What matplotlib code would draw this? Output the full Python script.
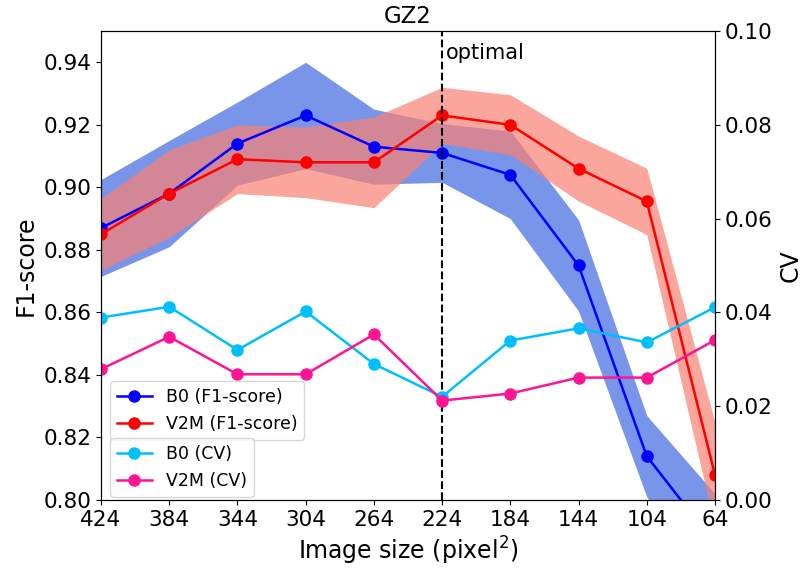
import matplotlib
matplotlib.use("Agg")
import matplotlib.pyplot as plt
import numpy as np

# image sizes, largest to smallest
sizes = ["424", "384", "344", "304", "264", "224", "184", "144", "104", "64"]

# F1-score mean and spread per model
b0_f1 = [0.887, 0.898, 0.914, 0.923, 0.913, 0.911, 0.904, 0.875, 0.814, 0.786]
b0_std = [0.0155, 0.017, 0.0133, 0.017, 0.012, 0.0094, 0.014, 0.0146, 0.013, 0.016]
v2m_f1 = [0.885, 0.898, 0.909, 0.908, 0.908, 0.923, 0.920, 0.906, 0.8955, 0.808]
v2m_std = [0.0115, 0.014, 0.011, 0.0113, 0.0145, 0.009, 0.0096, 0.0104, 0.0106, 0.0168]

# coefficient of variation
b0_cv = [0.0389, 0.0412, 0.0320, 0.0402, 0.0290, 0.0220, 0.0340, 0.0366, 0.0336, 0.0411]
v2m_cv = [0.0279, 0.0348, 0.0268, 0.0268, 0.0353, 0.0212, 0.0227, 0.0261, 0.0261, 0.0341]

optimal_size = "224"

x = np.arange(len(sizes))
b0_f1 = np.array(b0_f1)
b0_std = np.array(b0_std)
v2m_f1 = np.array(v2m_f1)
v2m_std = np.array(v2m_std)

fig = plt.figure(figsize=(8.03, 5.72), dpi=100)
ax1 = fig.add_axes([0.1258, 0.1259, 0.7646, 0.8199])

ax1.fill_between(x, b0_f1 - b0_std, b0_f1 + b0_std, color="royalblue", alpha=0.7, linewidth=0)
ax1.fill_between(x, v2m_f1 - v2m_std, v2m_f1 + v2m_std, color="salmon", alpha=0.7, linewidth=0)
l1, = ax1.plot(x, b0_f1, "-o", color="blue", lw=1.8, ms=8, label="B0 (F1-score)")
l2, = ax1.plot(x, v2m_f1, "-o", color="red", lw=1.8, ms=8, label="V2M (F1-score)")

opt = sizes.index(optimal_size)
ax1.axvline(opt, color="black", ls="--", lw=1.5)
ax1.text(opt + 0.05, 0.943, "optimal", fontsize=15, va="center", ha="left")

ax1.set_xlim(0, len(sizes) - 1)
ax1.set_ylim(0.80, 0.95)
ax1.set_yticks(np.arange(0.80, 0.941, 0.02))
ax1.set_xticks(x)
ax1.set_xticklabels(sizes)
ax1.tick_params(labelsize=15.5)
ax1.set_xlabel("Image size (pixel$^2$)", fontsize=17)
ax1.set_ylabel("F1-score", fontsize=17)
ax1.set_title("GZ2", fontsize=16.5)

ax2 = ax1.twinx()
l3, = ax2.plot(x, b0_cv, "-o", color="deepskyblue", lw=1.8, ms=8, label="B0 (CV)")
l4, = ax2.plot(x, v2m_cv, "-o", color="deeppink", lw=1.8, ms=8, label="V2M (CV)")
ax2.set_ylim(0, 0.10)
ax2.set_yticks(np.arange(0, 0.101, 0.02))
ax2.tick_params(labelsize=15.5)
ax2.set_ylabel("CV", fontsize=17)

leg1 = ax2.legend(handles=[l1, l2], loc="lower left", bbox_to_anchor=(0.0147, 0.128),
                  borderaxespad=0, fontsize=12.5)
ax2.add_artist(leg1)
ax2.legend(handles=[l3, l4], loc="lower left", bbox_to_anchor=(0.0147, 0.007),
           borderaxespad=0, fontsize=12.5)

fig.savefig("out.png", dpi=100)
